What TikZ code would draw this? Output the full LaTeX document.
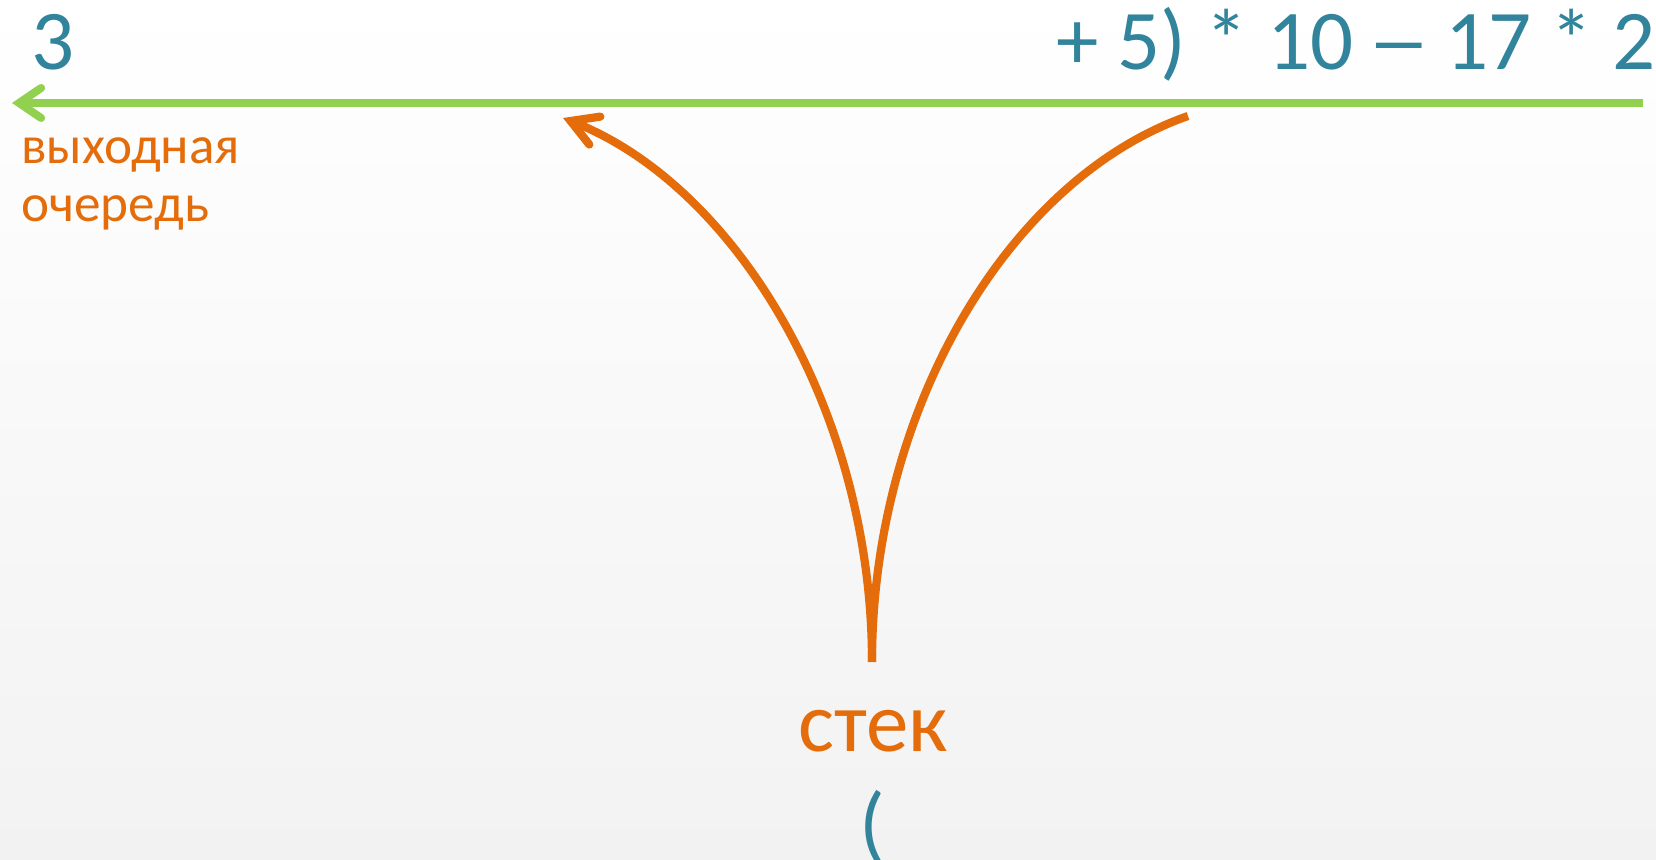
\documentclass[tikz,border=0pt]{standalone}
\usepackage{fontspec}
\usepackage{graphicx}
\setmainfont{Carlito}
\usetikzlibrary{arrows.meta}
\definecolor{tealx}{HTML}{31849B}
\definecolor{orng}{HTML}{E46C0A}
\definecolor{grn}{HTML}{92D050}
\definecolor{bgbot}{HTML}{F2F2F2}
\tikzset{
  numtxt/.style={text=tealx, font=\fontsize{42.5}{50}\selectfont, inner sep=0pt},
  lbl/.style={text=orng, font=\fontsize{26.6}{30}\selectfont, inner sep=0pt, anchor=base west},
  stacklbl/.style={text=orng, font=\fontsize{42.5}{50}\selectfont, inner sep=0pt, anchor=base},
  flow/.style={draw=orng, line width=4.1pt},
  queue/.style={draw=grn, line width=4pt},
  barbq/.style={-{Straight Barb[length=11pt,width=15pt,line cap=round,line join=miter]}},
  barbf/.style={-{Straight Barb[length=13pt,width=15pt,line cap=round,line join=miter]}}
}
\begin{document}
\begin{tikzpicture}[x=0.5pt,y=-0.5pt]
\shade[top color=white, bottom color=bgbot] (0,0) rectangle (1656,860);
\useasboundingbox (0,0) rectangle (1656,860);

\node[numtxt, anchor=base west] (out) at (31,70) {3};
\node[numtxt, anchor=base east] (inp) at (1656,70) {+ 5) * 10 \kern-2.5pt\scalebox{1.5}[1]{–}\kern-2.5pt{} 17 * 2};
\node[lbl] (l1) at (21,164) {выходная};
\node[lbl] (l2) at (21,222) {очередь};
\node[stacklbl] (stack) at (873,752) {стек};
\node[numtxt, anchor=base] (top) at (872,853) {(};

\coordinate (qR) at (1643,103);
\coordinate (qL) at (12,103);
\draw[queue, barbq] (qR) -- (qL);

\coordinate (sb) at (872,662);
\coordinate (lt) at (563,118);
\coordinate (rt) at (1188,116);
\draw[flow, barbf] (sb) .. controls (872,410) and (735,186) .. (lt);
\draw[flow] (sb) .. controls (872,410) and (1008,179) .. (rt);
\end{tikzpicture}
\end{document}
